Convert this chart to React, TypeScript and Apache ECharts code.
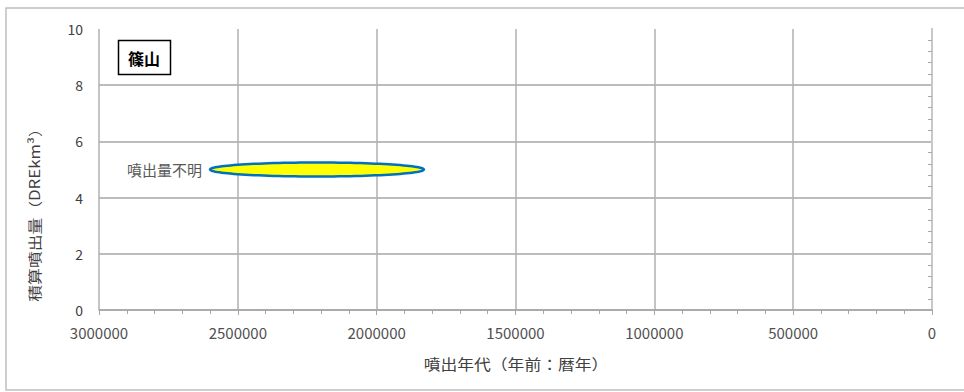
import React, { useEffect, useRef } from "react";
import * as echarts from "echarts";

const volcanoName = "篠山";
const xAxisTitle = "噴出年代（年前：暦年）";
const yAxisTitle = "積算噴出量（DREkm³）";
const unknownLabel = "噴出量不明";
const eruptionStart = [2600000];
const eruptionEnd = [1830000];
const eruptionVolume = [5];
const xTicks = [0, 500000, 1000000, 1500000, 2000000, 2500000, 3000000];
const yTicks = [0, 2, 4, 6, 8, 10];

const FONT = "'Noto Sans CJK JP', 'Noto Sans', sans-serif";

export default function App() {
  const ref = useRef<HTMLDivElement>(null);
  useEffect(() => {
    if (!ref.current) return;
    const chart = echarts.init(ref.current, undefined, { renderer: "svg" });
    const data = eruptionStart.map((s, i) => [s, eruptionEnd[i], eruptionVolume[i]]);
    chart.setOption({
      animation: false,
      backgroundColor: "#ffffff",
      textStyle: { fontFamily: FONT },
      grid: { left: 99, top: 29, width: 833, height: 281 },
      graphic: [
        {
          type: "rect",
          shape: { x: 6, y: 8, width: 970, height: 382 },
          style: { fill: "none", stroke: "#bfbfbf", lineWidth: 1.5 },
          silent: true,
        },
        {
          type: "rect",
          shape: { x: 118.5, y: 40.5, width: 52, height: 34 },
          style: { fill: "#ffffff", stroke: "#000000", lineWidth: 1.5 },
          z: 10,
        },
        {
          type: "text",
          x: 144,
          y: 58,
          style: {
            text: volcanoName,
            fontSize: 16,
            fontWeight: "bold",
            fontFamily: FONT,
            fill: "#000000",
            align: "center",
            verticalAlign: "middle",
          },
          z: 11,
        },
        {
          type: "text",
          x: 516,
          y: 364,
          scaleX: 1.12,
          style: {
            text: xAxisTitle,
            fontSize: 15,
            fontFamily: FONT,
            fill: "#404040",
            align: "center",
            verticalAlign: "middle",
          },
        },
        {
          type: "text",
          x: 34,
          y: 211,
          rotation: Math.PI / 2,
          scaleX: 1.2,
          style: {
            text: yAxisTitle,
            fontSize: 14,
            fontFamily: FONT,
            fill: "#404040",
            align: "center",
            verticalAlign: "middle",
          },
        },
      ],
      xAxis: {
        type: "value",
        inverse: true,
        min: xTicks[0],
        max: xTicks[xTicks.length - 1],
        interval: 500000,
        axisLine: { show: true, lineStyle: { color: "#a6a6a6", width: 1.5 } },
        axisTick: { show: true, length: 5, lineStyle: { color: "#a6a6a6" } },
        minorTick: { show: true, splitNumber: 5, length: 4, lineStyle: { color: "#a6a6a6" } },
        axisLabel: {
          fontSize: 15,
          color: "#505050",
          margin: 15,
          fontFamily: FONT,
          formatter: (v: number) => String(v),
        },
        splitLine: { show: true, lineStyle: { color: "#b0b0b0", width: 1.5 } },
      },
      yAxis: [
        {
          type: "value",
          min: yTicks[0],
          max: yTicks[yTicks.length - 1],
          interval: 2,
          axisLine: { show: true, lineStyle: { color: "#a6a6a6", width: 1.5 } },
          axisTick: { show: false },
          axisLabel: { fontSize: 14, color: "#404040", margin: 16, fontFamily: FONT },
          splitLine: { show: true, showMaxLine: false, lineStyle: { color: "#a6a6a6", width: 1.5 } },
        },
        {
          type: "value",
          position: "right",
          min: yTicks[0],
          max: yTicks[yTicks.length - 1],
          interval: 2,
          axisLine: { show: true, lineStyle: { color: "#c8c8c8", width: 2 } },
          axisTick: { show: false, inside: true },
          minorTick: { show: true, splitNumber: 5, length: 4, lineStyle: { color: "#a6a6a6" } },
          axisLabel: { show: false },
          splitLine: { show: false },
        },
      ],
      series: [
        {
          type: "custom",
          data,
          encode: { x: [0, 1], y: 2 },
          renderItem: (params: any, api: any) => {
            const s = api.value(0);
            const e = api.value(1);
            const v = api.value(2);
            const p1 = api.coord([s, v]);
            const p2 = api.coord([e, v]);
            const cx = (p1[0] + p2[0]) / 2;
            const cy = p1[1];
            const a = Math.abs(p2[0] - p1[0]) / 2;
            const b = 7;
            const pts: number[][] = [];
            for (let k = 0; k < 120; k++) {
              const t = (k / 120) * Math.PI * 2;
              pts.push([cx + a * Math.cos(t), cy + b * Math.sin(t)]);
            }
            return {
              type: "group",
              children: [
                {
                  type: "polygon",
                  shape: { points: pts },
                  style: { fill: "#ffff00", stroke: "#0070c0", lineWidth: 2.5 },
                },
                {
                  type: "text",
                  x: Math.min(p1[0], p2[0]) - 8,
                  y: cy,
                  style: {
                    text: unknownLabel,
                    fontSize: 15,
                    fontFamily: FONT,
                    fill: "#595959",
                    align: "right",
                    verticalAlign: "middle",
                  },
                },
              ],
            };
          },
        },
      ],
    });
    return () => chart.dispose();
  }, []);
  return (
    <div
      ref={ref}
      style={{ position: "absolute", left: 0, top: 0, width: 964, height: 392 }}
    />
  );
}
